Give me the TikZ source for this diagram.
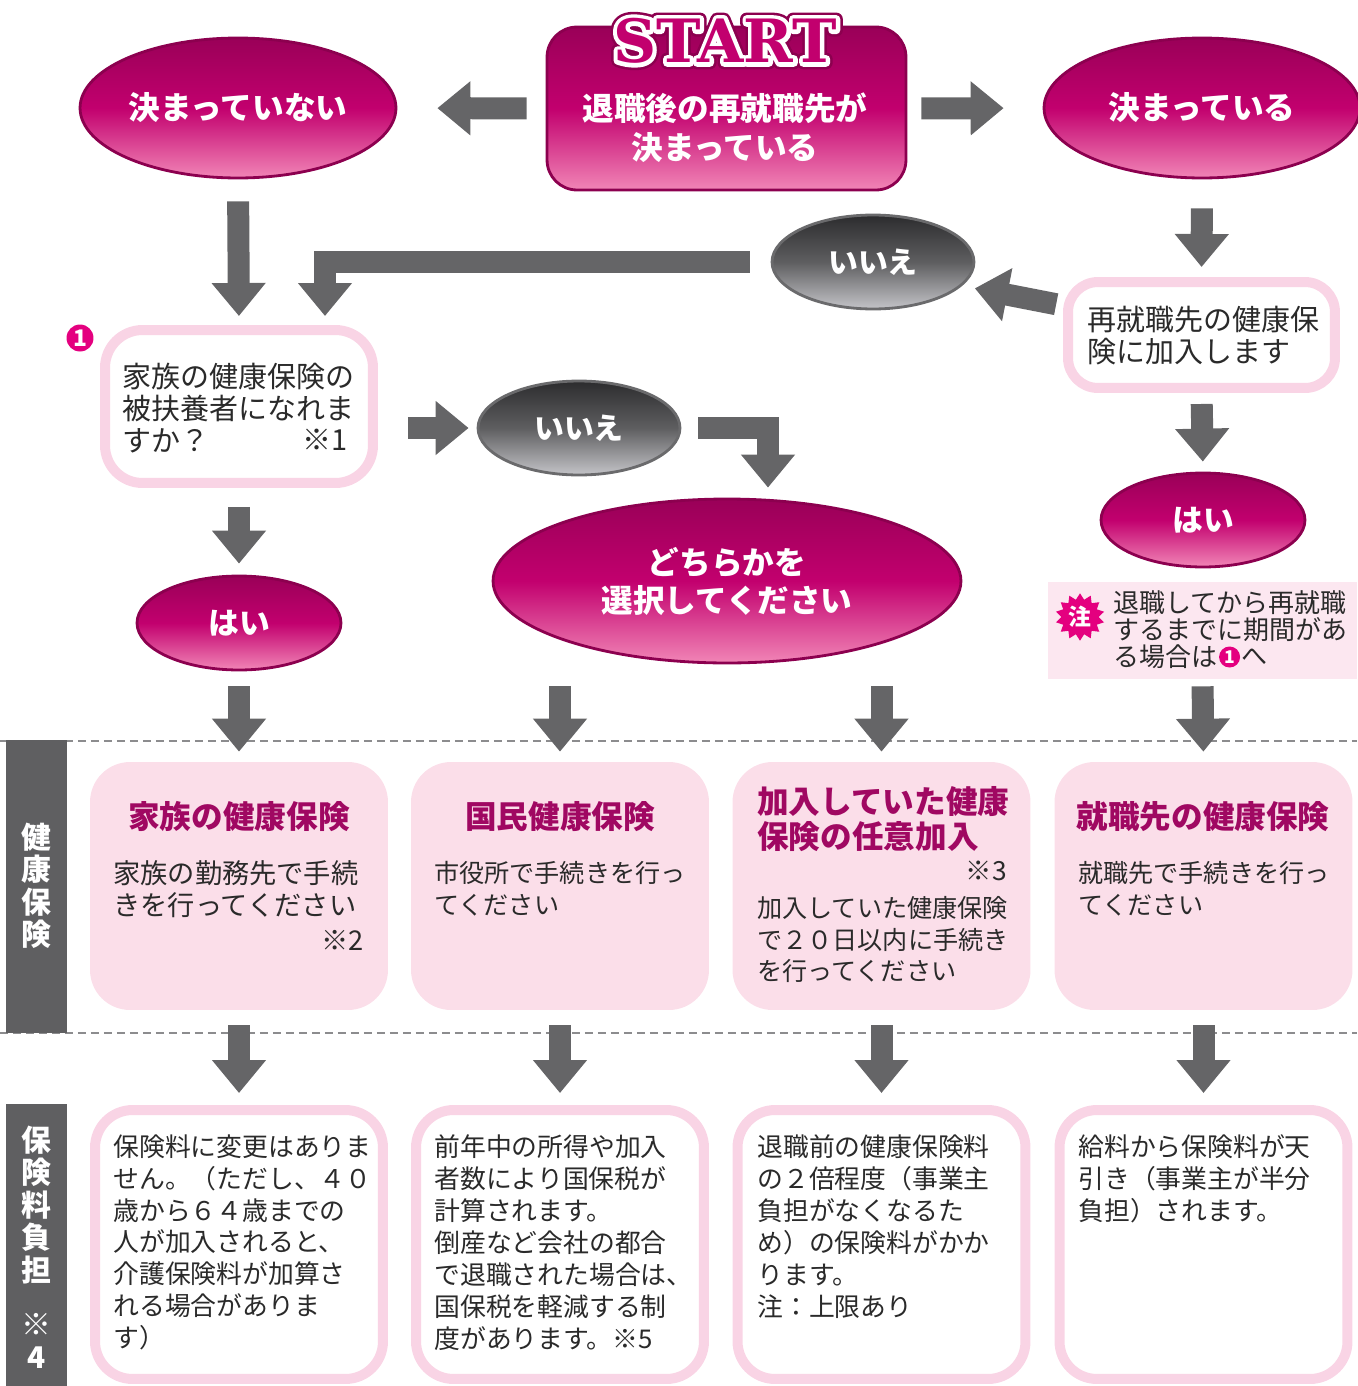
\documentclass[tikz,border=0pt]{standalone}
\usepackage{fontspec}
\setmainfont{Noto Sans CJK JP}
\newfontfamily\startfont{DejaVu Serif}
\usetikzlibrary{arrows.meta,shapes.geometric,shapes.symbols,positioning}

\definecolor{mTop}{HTML}{9A0058}
\definecolor{mMid}{HTML}{C2006E}
\definecolor{mBot}{HTML}{F185B6}
\definecolor{mEdge}{HTML}{8C004F}
\definecolor{gTop}{HTML}{2C2C2E}
\definecolor{gMid}{HTML}{5E5E60}
\definecolor{gBot}{HTML}{C4C4C8}
\definecolor{gEdge}{HTML}{6A6A6C}
\definecolor{arrowG}{HTML}{656567}
\definecolor{bandG}{HTML}{5F5F61}
\definecolor{pinkB}{HTML}{F9D4E5}
\definecolor{pinkF}{HTML}{FBDEE9}
\definecolor{noteF}{HTML}{FCE7F0}
\definecolor{badgeM}{HTML}{E4007F}
\definecolor{titleM}{HTML}{A00862}
\definecolor{txt}{HTML}{2A2A2A}
\definecolor{dashG}{HTML}{8C8C8E}

\newcommand\fsz[2]{\fontsize{#1}{#2}\selectfont}
% stroked letters: width, stroke colour, text
\newcommand\outl[3]{\special{pdf:literal direct #1 w 1 j #2 RG 2 Tr}#3\special{pdf:literal direct 0 Tr}}

\tikzset{
  garrow/.style={draw=arrowG, line width=0.44cm, -{Triangle[length=0.66cm,width=1.04cm]}},
  magell/.style={ellipse, draw=mEdge, line width=1.6pt, top color=mTop, bottom color=mBot, middle color=mMid,
    text=white, font=\fsz{18}{22}\bfseries, inner sep=0pt},
  greyell/.style={ellipse, draw=gEdge, line width=1.6pt, top color=gTop, bottom color=gBot, middle color=gMid,
    text=white, font=\fsz{17}{20}\bfseries, inner sep=0pt, minimum width=4.04cm, minimum height=1.88cm},
  pinkbox/.style={draw=pinkB, line width=0.2cm, fill=white, rounded corners=0.75cm, inner sep=0pt},
  softbox/.style={fill=pinkF, rounded corners=0.8cm, inner sep=0pt, minimum width=5.96cm, minimum height=4.96cm},
  bodytxt/.style={text=txt, align=left, inner sep=0pt},
  titletxt/.style={text=titleM, font=\fsz{18}{19.5}\bfseries, align=left, inner sep=0pt},
  band/.style={fill=bandG, inner sep=0pt, minimum width=1.22cm},
  bandtxt/.style={text=white, font=\fsz{17}{18.5}\bfseries, align=center, inner sep=0pt},
  badge/.style={circle, fill=badgeM, text=white, inner sep=0pt},
  stword/.style={font=\startfont\fsz{34}{34}\bfseries, inner sep=0pt},
  dashline/.style={draw=dashG, line width=1.2pt, dash pattern=on 0.16cm off 0.1cm}
}

\begin{document}
\begin{tikzpicture}[x=0.02cm, y=-0.02cm]
\useasboundingbox (0,0) rectangle (1357,1386);

\draw[dashline] (0,741) -- (1357,741);
\draw[dashline] (0,1033) -- (1357,1033);

% start
\node[magell, ellipse=false, rectangle, rounded corners=0.6cm, minimum width=7.18cm, minimum height=3.26cm] (st) at (726.5,108.5) {};
\node[font=\fsz{18}{22.2}\bfseries, text=white, align=center, inner sep=0pt] (stT) at (725,128) {退職後の再就職先が\\決まっている};
\node[stword, text=mEdge] (stO) at (725,41) {\outl{7.5}{0.55 0 0.31}{START}};
\node[stword, text=white] (stI) at (725,41) {\outl{4.6}{1 1 1}{START}};
\node[stword, text=mMid] (stW) at (725,41) {START};

\node[magell, minimum width=6.32cm, minimum height=2.8cm] (nL) at (238,108) {決まっていない};
\node[magell, minimum width=6.32cm, minimum height=2.8cm] (nR) at (1202,108) {決まっている};

% right column
\node[greyell] (iiT) at (873,262) {いいえ};
\node[pinkbox, minimum width=5.34cm, minimum height=2.12cm, rounded corners=0.6cm] (rj) at (1201.5,335) {};
\node[bodytxt, anchor=west, font=\fsz{16.5}{18.2}] (rjT) at (1087,336) {再就職先の健康保\\険に加入します};
\node[magell, font=\fsz{17.5}{20}\bfseries, minimum width=4.08cm, minimum height=1.88cm] (hR) at (1203,520) {はい};
\node[fill=noteF, minimum width=6.18cm, minimum height=1.94cm, inner sep=0pt] (note) at (1202.5,630.5) {};
\node[starburst, starburst points=14, starburst point height=0.12cm, random starburst=0, fill=badgeM,
  text=white, font=\fsz{13}{13}\bfseries, inner sep=1pt, minimum size=0.9cm] (chu) at (1080,617) {注};
\node[bodytxt, anchor=west, font=\fsz{14.8}{15.4}] (noteA) at (1113,616.5) {退職してから再就職\\するまでに期間があ};
\node[bodytxt, anchor=west, font=\fsz{14.8}{15.4}] (noteB) at (1113,657) {る場合は};
\node[badge, minimum size=0.42cm, font=\fsz{10}{10}\bfseries, right=0.02cm of noteB] (bd2) {1};
\node[bodytxt, font=\fsz{14.8}{15.4}, right=0.02cm of bd2] (noteC) {へ};

% left column
\node[pinkbox, minimum width=5.36cm, minimum height=3.06cm] (q1) at (239,406.5) {};
\node[badge, minimum size=0.54cm, font=\fsz{13}{13}\bfseries] (bd1) at (80,338) {1};
\node[bodytxt, anchor=west, font=\fsz{16.5}{18.2}] (q1T) at (122,408) {家族の健康保険の\\被扶養者になれま\\すか？};
\node[bodytxt, anchor=east, font=\fsz{16.5}{18.2}] (q1N) at (348,440) {※1};
\node[greyell] (iiM) at (579,428) {いいえ};
\node[magell, minimum width=9.36cm, minimum height=3.28cm, align=center, font=\fsz{18}{21.6}\bfseries] (sel) at (727,581) {どちらかを\\選択してください};
\node[magell, font=\fsz{17.5}{20}\bfseries, minimum width=4.08cm, minimum height=1.88cm] (hL) at (239,623) {はい};

% side bands
\node[band, minimum height=5.86cm] (bdK) at (36.5,886.5) {};
\node[bandtxt] (bdKT) at (36.5,886) {健\\康\\保\\険};
\node[band, minimum height=5.64cm] (bdF) at (36.5,1245) {};
\node[bandtxt] (bdFT) at (36.5,1247) {保\\険\\料\\負\\担\\[0.44cm]※\\4};

% rows
\foreach \x/\n in {239/1,560/2,881.5/3,1203.5/4}
  \node[softbox] (c\n) at (\x,886) {};
\foreach \x/\n in {239/1,560/2,881.5/3,1203.5/4}
  \node[pinkbox, minimum width=5.76cm, minimum height=5.38cm] (p\n) at (\x,1244.5) {};

\node[titletxt] (c1T) at (239,817) {家族の健康保険};
\node[titletxt] (c2T) at (560,817) {国民健康保険};
\node[titletxt, anchor=west] (c3T) at (757,819) {加入していた健康\\保険の任意加入};
\node[titletxt] (c4T) at (1203,817) {就職先の健康保険};

\node[bodytxt, anchor=west, font=\fsz{15.5}{18.2}] (c1B) at (113,889) {家族の勤務先で手続\\きを行ってください};
\node[bodytxt, anchor=east, font=\fsz{15.5}{18.2}] (c1N) at (364,940) {※2};
\node[bodytxt, anchor=west, font=\fsz{14.3}{18.2}] (c2B) at (434,889) {市役所で手続きを行っ\\てください};
\node[bodytxt, anchor=east, font=\fsz{15}{18.2}] (c3N) at (1007,871) {※3};
\node[bodytxt, anchor=west, font=\fsz{14.3}{18}] (c3B) at (757,939.5) {加入していた健康保険\\で２０日以内に手続き\\を行ってください};
\node[bodytxt, anchor=west, font=\fsz{14.3}{18.2}] (c4B) at (1078,889) {就職先で手続きを行っ\\てください};

\node[bodytxt, anchor=north west, font=\fsz{14.7}{18.2}] (p1T) at (113,1134) {保険料に変更はありま\\せん。（ただし、４０\\歳から６４歳までの\\人が加入されると、\\介護保険料が加算さ\\れる場合がありま\\す）};
\node[bodytxt, anchor=north west, font=\fsz{14.7}{18.2}] (p2T) at (434,1134) {前年中の所得や加入\\者数により国保税が\\計算されます。\\倒産など会社の都合\\で退職された場合は、\\国保税を軽減する制\\度があります。※5};
\node[bodytxt, anchor=north west, font=\fsz{14.7}{18.2}] (p3T) at (757,1134) {退職前の健康保険料\\の２倍程度（事業主\\負担がなくなるた\\め）の保険料がかか\\ります。\\注：上限あり};
\node[bodytxt, anchor=north west, font=\fsz{14.7}{18.2}] (p4T) at (1078,1134) {給料から保険料が天\\引き（事業主が半分\\負担）されます。};

% arrows
\draw[garrow, shorten <=0.38cm, shorten >=0.8cm] (st.west) -- (nL.east);
\draw[garrow, shorten <=0.28cm, shorten >=0.78cm] (st.east) -- (nR.west);
\draw[garrow, shorten <=0.44cm, shorten >=0.18cm] (nL.south) -- (q1.north);
\draw[garrow, shorten <=0.42cm, shorten >=0.18cm] (iiT.west) -| ([xshift=1.72cm]q1.north);
\draw[garrow, shorten <=0.58cm, shorten >=0.2cm] (nR.south) -- (rj.north);
\draw[garrow, shorten <=0.14cm, shorten >=0.26cm] (rj.168) -- (iiT.-15);
\draw[garrow, shorten <=0.22cm, shorten >=0.2cm] (rj.south) -- (hR.north);
\draw[garrow, shorten <=0.6cm, shorten >=0.16cm] (q1.east |- iiM.west) -- (iiM.west);
\draw[garrow, shorten <=0.34cm, shorten >=0.2cm] (iiM.east) -| ([xshift=0.82cm]sel.north);
\draw[garrow, shorten <=0.38cm, shorten >=0.22cm] (q1.south) -- (hL.north);
\draw[garrow, shorten <=0.3cm, shorten >=0.2cm] (hL.south) -- (c1.north);
\draw[garrow, shorten <=0.44cm, shorten >=0.2cm] (c2.north |- sel.south) -- (c2.north);
\draw[garrow, shorten <=0.44cm, shorten >=0.2cm] (c3.north |- sel.south) -- (c3.north);
\draw[garrow, shorten <=0.14cm, shorten >=0.2cm] (note.south) -- (c4.north);
\foreach \n in {1,...,4}
  \draw[garrow, shorten <=0.3cm, shorten >=0.24cm] (c\n.south) -- (p\n.north);
\end{tikzpicture}
\end{document}
